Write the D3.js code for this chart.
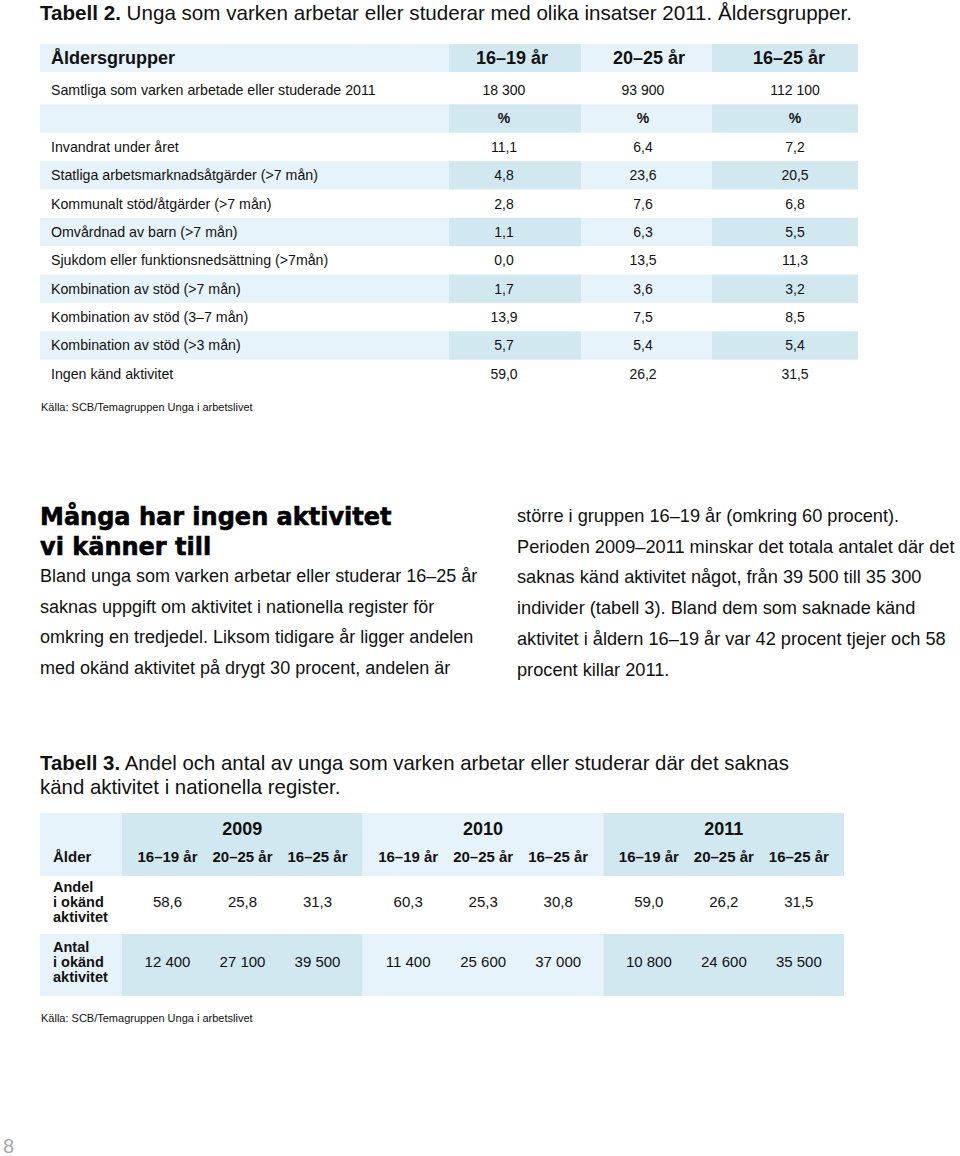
<!DOCTYPE html>
<html><head><meta charset="utf-8">
<script src="https://cdn.jsdelivr.net/npm/d3@7"></script>
<style>
body{margin:0;background:#fff}
svg{display:block}
text{font-family:"Liberation Sans",Arial,Helvetica,sans-serif;fill:#111}
</style>
</head><body>
<svg id="c" width="960" height="1156"></svg>
<script>
// ---------- Data: Tabell 2 ----------
const t2Columns = ["16–19 år", "20–25 år", "16–25 år"];
const t2TotalLabel = "Samtliga som varken arbetade eller studerade 2011";
const t2Totals = [18300, 93900, 112100];
const t2Categories = [
  "Invandrat under året",
  "Statliga arbetsmarknadsåtgärder (>7 mån)",
  "Kommunalt stöd/åtgärder (>7 mån)",
  "Omvårdnad av barn (>7 mån)",
  "Sjukdom eller funktionsnedsättning (>7mån)",
  "Kombination av stöd (>7 mån)",
  "Kombination av stöd (3–7 mån)",
  "Kombination av stöd (>3 mån)",
  "Ingen känd aktivitet"
];
const t2Age1619 = [11.1, 4.8, 2.8, 1.1, 0.0, 1.7, 13.9, 5.7, 59.0];
const t2Age2025 = [6.4, 23.6, 7.6, 6.3, 13.5, 3.6, 7.5, 5.4, 26.2];
const t2Age1625 = [7.2, 20.5, 6.8, 5.5, 11.3, 3.2, 8.5, 5.4, 31.5];

// ---------- Data: Tabell 3 ----------
const t3Years = ["2009", "2010", "2011"];
const t3AgeGroups = ["16–19 år", "20–25 år", "16–25 år"];
const t3Andel2009 = [58.6, 25.8, 31.3];
const t3Andel2010 = [60.3, 25.3, 30.8];
const t3Andel2011 = [59.0, 26.2, 31.5];
const t3Antal2009 = [12400, 27100, 39500];
const t3Antal2010 = [11400, 25600, 37000];
const t3Antal2011 = [10800, 24600, 35500];
const t3RowLabels = [["Andel", "i okänd", "aktivitet"], ["Antal", "i okänd", "aktivitet"]];

const source = "Källa: SCB/Temagruppen Unga i arbetslivet";

// ---------- Styling ----------
const LIGHT = "#e6f3fa", DARK = "#d2e8f1";
const sv = d3.formatLocale({decimal: ",", thousands: " ", grouping: [3], currency: ["", " kr"]});
const fPct = sv.format(",.1f"), fInt = sv.format(",d");

const svg = d3.select("#c");

// ======== Tabell 2 ========
const t2Title = svg.append("text").attr("x", 40).attr("y", 20).style("font-size", "20.6px");
t2Title.append("tspan").style("font-weight", "bold").text("Tabell 2.");
t2Title.append("tspan").text(" Unga som varken arbetar eller studerar med olika insatser 2011. Åldersgrupper.");

const colKeys = ["label", ...t2Columns];
const xLeft = d3.scaleOrdinal().domain(colKeys).range([40, 449, 581, 712]);
const xRight = d3.scaleOrdinal().domain(colKeys).range([449, 581, 712, 858]);
const colFill = d3.scaleOrdinal().domain(colKeys).range([LIGHT, DARK, LIGHT, DARK]);
const xVal = d3.scaleOrdinal().domain(t2Columns).range([504, 643, 795]);
const xHead = d3.scaleOrdinal().domain(t2Columns).range([512, 649, 789]);

// rows: 0 totals, 1 "%", 2.. categories
const t2Rows = [t2TotalLabel, "%", ...t2Categories];
const y2 = d3.scaleBand().domain(d3.range(t2Rows.length)).range([76, 388]);
const headTop = 44, headBot = 72;

const t2Values = [t2Age1619, t2Age2025, t2Age1625];

// header band
svg.append("g").selectAll("rect").data(colKeys).join("rect")
  .attr("x", d => xLeft(d)).attr("width", d => xRight(d) - xLeft(d))
  .attr("y", headTop).attr("height", headBot - headTop).attr("fill", d => colFill(d));

// shaded rows
const shadedRows = d3.range(t2Rows.length).filter(i => i % 2 === 1);
const cellsG = svg.append("g");
shadedRows.forEach(i => {
  cellsG.append("g").selectAll("rect").data(colKeys).join("rect")
    .attr("x", d => xLeft(d)).attr("width", d => xRight(d) - xLeft(d))
    .attr("y", y2(i)).attr("height", y2.bandwidth()).attr("fill", d => colFill(d));
});

// header texts
svg.append("text").attr("x", 51).attr("y", (headTop + headBot) / 2).attr("dy", "0.35em")
  .style("font-size", "18px").style("font-weight", "bold").text("Åldersgrupper");
svg.append("g").selectAll("text").data(t2Columns).join("text")
  .attr("x", d => xHead(d)).attr("y", (headTop + headBot) / 2).attr("dy", "0.35em")
  .attr("text-anchor", "middle").style("font-size", "18px").style("font-weight", "bold").text(d => d);

// row labels
svg.append("g").selectAll("text").data(t2Rows.map((r, i) => ({r, i})).filter(d => d.i !== 1)).join("text")
  .attr("x", 51).attr("y", d => y2(d.i) + y2.bandwidth() / 2).attr("dy", "0.35em")
  .style("font-size", "14.2px").text(d => d.r);

// totals
svg.append("g").selectAll("text").data(t2Columns).join("text")
  .attr("x", d => xVal(d)).attr("y", y2(0) + y2.bandwidth() / 2).attr("dy", "0.35em")
  .attr("text-anchor", "middle").style("font-size", "14px").text((d, j) => fInt(t2Totals[j]));
// % row
svg.append("g").selectAll("text").data(t2Columns).join("text")
  .attr("x", d => xVal(d)).attr("y", y2(1) + y2.bandwidth() / 2).attr("dy", "0.35em")
  .attr("text-anchor", "middle").style("font-size", "14px").style("font-weight", "bold").text("%");
// values
t2Columns.forEach((c, j) => {
  svg.append("g").selectAll("text").data(t2Values[j]).join("text")
    .attr("x", xVal(c)).attr("y", (d, i) => y2(i + 2) + y2.bandwidth() / 2).attr("dy", "0.35em")
    .attr("text-anchor", "middle").style("font-size", "14px").text(d => fPct(d));
});

svg.append("text").attr("x", 41).attr("y", 411).style("font-size", "11px").text(source);

// ======== Body text ========
const heading = ["Många har ingen aktivitet", "vi känner till"];
svg.append("g").selectAll("text").data(heading).join("text")
  .attr("x", 40).attr("y", (d, i) => 525 + i * 30)
  .style("font-family", "'DejaVu Sans', sans-serif").style("font-weight", "bold").style("font-size", "24px")
  .style("fill", "#000").style("stroke", "#000").style("stroke-width", "0.6px").text(d => d);

const leftLines = [
  "Bland unga som varken arbetar eller studerar 16–25 år",
  "saknas uppgift om aktivitet i nationella register för",
  "omkring en tredjedel. Liksom tidigare år ligger andelen",
  "med okänd aktivitet på drygt 30 procent, andelen är"
];
svg.append("g").selectAll("text").data(leftLines).join("text")
  .attr("x", 40).attr("y", (d, i) => 582 + i * 30.7).style("font-size", "18px").text(d => d);

const rightLines = [
  "större i gruppen 16–19 år (omkring 60 procent).",
  "Perioden 2009–2011 minskar det totala antalet där det",
  "saknas känd aktivitet något, från 39 500 till 35 300",
  "individer (tabell 3). Bland dem som saknade känd",
  "aktivitet i åldern 16–19 år var 42 procent tjejer och 58",
  "procent killar 2011."
];
svg.append("g").selectAll("text").data(rightLines).join("text")
  .attr("x", 517).attr("y", (d, i) => 522 + i * 30.7).style("font-size", "18.2px").text(d => d);

// ======== Tabell 3 ========
const t3t1 = svg.append("text").attr("x", 40).attr("y", 770).style("font-size", "20.4px");
t3t1.append("tspan").style("font-weight", "bold").text("Tabell 3.");
t3t1.append("tspan").text(" Andel och antal av unga som varken arbetar eller studerar där det saknas");
svg.append("text").attr("x", 40).attr("y", 794).style("font-size", "20.4px").text("känd aktivitet i nationella register.");

const x3 = d3.scaleBand().domain(t3Years).range([122, 844]);
const sub = d3.scaleBand().domain(t3AgeGroups).range([8, 233]);
const t3Cols = ["label", ...t3Years];
const x3L = d => d === "label" ? 40 : x3(d);
const x3W = d => d === "label" ? 122 - 40 : x3.bandwidth();
const fill3 = d3.scaleOrdinal().domain(t3Cols).range([LIGHT, DARK, LIGHT, DARK]);

const t3RowKeys = ["header", "andel", "antal"];
const y3Top = d3.scaleOrdinal().domain(t3RowKeys).range([813, 876, 934]);
const y3Bot = d3.scaleOrdinal().domain(t3RowKeys).range([876, 934, 996]);

["header", "antal"].forEach(r => {
  svg.append("g").selectAll("rect").data(t3Cols).join("rect")
    .attr("x", x3L).attr("width", x3W)
    .attr("y", y3Top(r)).attr("height", y3Bot(r) - y3Top(r)).attr("fill", d => fill3(d));
});

svg.append("g").selectAll("text").data(t3Years).join("text")
  .attr("x", d => x3(d) + x3.bandwidth() / 2).attr("y", 829).attr("dy", "0.35em")
  .attr("text-anchor", "middle").style("font-size", "18px").style("font-weight", "bold").text(d => d);

svg.append("text").attr("x", 53).attr("y", 857).attr("dy", "0.35em")
  .style("font-size", "15px").style("font-weight", "bold").text("Ålder");

const t3Andel = [t3Andel2009, t3Andel2010, t3Andel2011];
const t3Antal = [t3Antal2009, t3Antal2010, t3Antal2011];

t3Years.forEach((yr, k) => {
  const g = svg.append("g").attr("transform", `translate(${x3(yr)},0)`);
  g.selectAll("text.h").data(t3AgeGroups).join("text").attr("class", "h")
    .attr("x", d => sub(d) + sub.bandwidth() / 2).attr("y", 857).attr("dy", "0.35em")
    .attr("text-anchor", "middle").style("font-size", "15px").style("font-weight", "bold").text(d => d);
  g.selectAll("text.a").data(t3Andel[k]).join("text").attr("class", "a")
    .attr("x", (d, i) => sub(t3AgeGroups[i]) + sub.bandwidth() / 2).attr("y", 902).attr("dy", "0.35em")
    .attr("text-anchor", "middle").style("font-size", "15px").text(d => fPct(d));
  g.selectAll("text.n").data(t3Antal[k]).join("text").attr("class", "n")
    .attr("x", (d, i) => sub(t3AgeGroups[i]) + sub.bandwidth() / 2).attr("y", 962).attr("dy", "0.35em")
    .attr("text-anchor", "middle").style("font-size", "15px").text(d => fInt(d));
});

const rowCenters = [902, 962];
t3RowLabels.forEach((lines, r) => {
  svg.append("g").selectAll("text").data(lines).join("text")
    .attr("x", 53).attr("y", (d, i) => rowCenters[r] + (i - 1) * 15.3).attr("dy", "0.35em")
    .style("font-size", "14.5px").style("font-weight", "bold").text(d => d);
});

svg.append("text").attr("x", 41).attr("y", 1022).style("font-size", "11px").text(source);

// page number
svg.append("text").attr("x", 3).attr("y", 1153).style("font-size", "20px").style("font-weight", "300")
  .style("fill", "#a8a8a8").text("8");
</script>
</body></html>
